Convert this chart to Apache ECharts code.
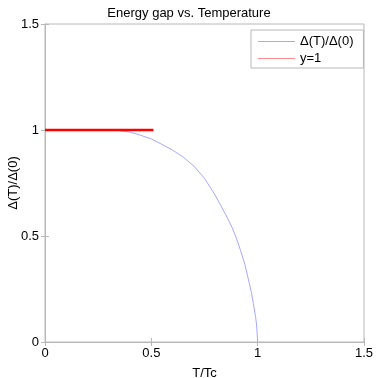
<!DOCTYPE html>
<html><head><meta charset="utf-8">
<script src="https://cdn.jsdelivr.net/npm/echarts@6/dist/echarts.min.js"></script>
<style>html,body{margin:0;padding:0;background:#fff}#c{width:378px;height:378px}</style>
</head><body><div id="c"></div>
<script>
const titleText = 'Energy gap vs. Temperature';
const xName = 'T/Tc';
const yName = 'Δ(T)/Δ(0)';
const gapT = [0,0.1,0.2,0.3,0.35,0.4,0.45,0.5,0.55,0.6,0.65,0.7,0.75,0.8,0.85,0.88,0.9,0.92,0.94,0.96,0.97,0.98,0.99,0.995,1.0];
const gapRatio = [1,1,1,0.999,0.997,0.99,0.975,0.958,0.932,0.905,0.872,0.83,0.772,0.693,0.6,0.54,0.49,0.43,0.365,0.28,0.235,0.18,0.12,0.08,0];
const refT = [0, 0.51];
const refY = [1, 1];
const seriesNames = ['Δ(T)/Δ(0)', 'y=1'];

const font = 'Liberation Sans, Arial, sans-serif';
const grey = '#b8b8b8';
const blue = '#a4a8ff';
const pink = '#ff8c8c';
const red = '#ff0000';
const chart = echarts.init(document.getElementById('c'));
const axisCommon = {
  type: 'value', min: 0, max: 1.5, interval: 0.5,
  axisLine: {show: true, lineStyle: {color: grey}},
  axisTick: {show: true, inside: true, length: 4, lineStyle: {color: grey}},
  splitLine: {show: false},
};
const legendText = {fontFamily: font, fontSize: 13, color: '#000'};
chart.setOption({
  animation: false,
  color: [blue, red],
  title: {text: titleText, left: 'center', top: 2, textStyle: {fontFamily: font, fontSize: 13, fontWeight: 'normal', color: '#000'}},
  grid: {left: 45, top: 24, width: 319, height: 318, show: true, borderColor: grey, borderWidth: 1,
         containLabel: false, outerBoundsMode: 'none'},
  legend: [
    {
      orient: 'vertical', left: 251, top: 30, backgroundColor: '#fff',
      borderColor: grey, borderWidth: 1, padding: [5, 10, 20, 7],
      itemWidth: 37, itemHeight: 14, icon: 'path://M0,7H37V8H0Z',
      itemStyle: {color: blue, borderWidth: 0}, lineStyle: {color: blue, width: 1},
      textStyle: legendText, data: [seriesNames[0]], z: 5
    },
    {
      orient: 'vertical', left: 258, top: 52, padding: 0,
      itemWidth: 37, itemHeight: 14, icon: 'path://M0,7H37V8H0Z',
      itemStyle: {color: pink, borderWidth: 0}, lineStyle: {color: pink, width: 1},
      textStyle: legendText, data: [seriesNames[1]], z: 6
    }
  ],
  xAxis: [
    Object.assign({}, axisCommon, {position: 'bottom', name: xName, nameLocation: 'middle', nameGap: 25,
      nameTextStyle: {fontFamily: font, fontSize: 13, color: '#000'},
      axisLabel: {fontFamily: font, fontSize: 13, color: '#000', margin: 5}}),
    Object.assign({}, axisCommon, {position: 'top', axisLabel: {show: false}})
  ],
  yAxis: [
    Object.assign({}, axisCommon, {position: 'left', name: yName, nameLocation: 'middle', nameGap: 25, nameRotate: 90,
      nameMoveOverlap: false,
      nameTextStyle: {fontFamily: font, fontSize: 13, color: '#000'},
      axisLabel: {fontFamily: font, fontSize: 13, color: '#000', margin: 6}}),
    Object.assign({}, axisCommon, {position: 'right', axisLabel: {show: false}})
  ],
  series: [
    {name: seriesNames[0], type: 'line', color: blue, showSymbol: false, symbol: 'none', smooth: false,
     data: gapT.map((t, i) => [t, gapRatio[i]]), lineStyle: {color: blue, width: 1}},
    {name: seriesNames[1], type: 'line', color: red, showSymbol: false, symbol: 'none',
     data: refT.map((t, i) => [t, refY[i]]), lineStyle: {color: red, width: 2.5}}
  ]
});
</script></body></html>
